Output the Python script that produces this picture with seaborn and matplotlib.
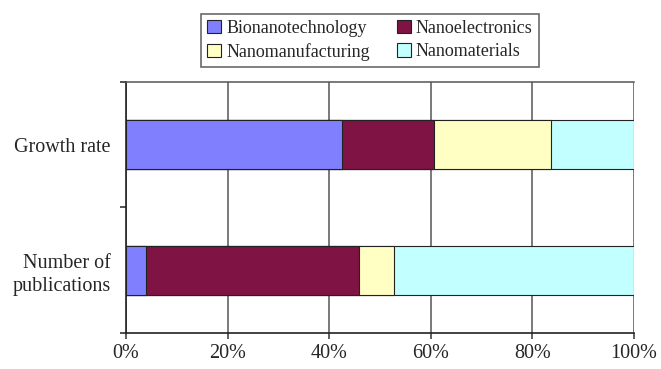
import matplotlib
matplotlib.use("Agg")
import matplotlib.pyplot as plt
from matplotlib.patches import Patch
from matplotlib.ticker import FixedLocator, PercentFormatter
import numpy as np
import pandas as pd
import seaborn as sns

# Share of each research field (percent of the total)
categories = ["Growth rate", "Number of\npublications"]
fields = ["Bionanotechnology", "Nanoelectronics", "Nanomanufacturing", "Nanomaterials"]
bionanotechnology = [42.6, 3.9]
nanoelectronics = [18.0, 41.9]
nanomanufacturing = [23.1, 6.9]
nanomaterials = [16.3, 47.3]
colors = ["#8080FF", "#7F1444", "#FFFFC4", "#C2FFFF"]
x_ticks = [0, 20, 40, 60, 80, 100]

sns.set_theme(style="white")
plt.rcParams["font.family"] = ["Liberation Serif", "DejaVu Serif"]

series = [bionanotechnology, nanoelectronics, nanomanufacturing, nanomaterials]
cumulative = np.cumsum(np.array(series), axis=0)

fig = plt.figure(figsize=(6.61, 3.69), dpi=100)
ax = fig.add_axes([0.1906, 0.0976, 0.7686, 0.6802])

# Stacked bars: draw running totals from the widest down so each segment shows
for i in range(len(fields) - 1, -1, -1):
    df = pd.DataFrame({"category": categories, "total": cumulative[i]})
    sns.barplot(data=df, x="total", y="category", orient="h", color=colors[i],
                width=0.39, edgecolor="#222222", linewidth=0.8, saturation=1,
                ax=ax, zorder=2)

ax.set_xlim(0, 100)
ax.set_ylim(1.5, -0.5)
ax.set_xlabel("")
ax.set_ylabel("")

ax.xaxis.set_major_locator(FixedLocator(x_ticks))
ax.xaxis.set_major_formatter(PercentFormatter(decimals=0))
ax.grid(axis="x", color="#555555", linewidth=1.1, zorder=0)
ax.set_axisbelow(True)

ax.set_yticks([0, 1])
ax.set_yticklabels(categories, fontsize=14.5, linespacing=1.3)
for lbl in ax.get_yticklabels():
    lbl.set_multialignment("right")
ax.yaxis.set_minor_locator(FixedLocator([-0.5, 0.5, 1.5]))
ax.tick_params(axis="y", which="major", length=0, pad=11)
ax.tick_params(axis="y", which="minor", length=4, width=1.1, color="#222222",
               direction="out", left=True)
ax.tick_params(axis="x", which="major", length=4, width=1.1, color="#333333",
               direction="out", bottom=True, labelsize=14.5, pad=4)

for side in ("left", "bottom"):
    ax.spines[side].set_color("#222222")
    ax.spines[side].set_linewidth(1.2)
ax.spines["top"].set_color("#555555")
ax.spines["top"].set_linewidth(1.1)
ax.spines["right"].set_visible(False)

# Legend filled row by row: matplotlib fills columns first, so reorder
handles = [Patch(facecolor=c, edgecolor="#222222", linewidth=0.8, label=f)
           for c, f in zip(colors, fields)]
order = [0, 2, 1, 3]
leg = fig.legend(handles=[handles[k] for k in order], ncol=2, loc="center",
                 bbox_to_anchor=(370 / 661, 1 - 40.5 / 369),
                 fontsize=13, frameon=True, fancybox=False,
                 edgecolor="#444444", handlelength=0.75, handleheight=0.75,
                 handletextpad=0.3, columnspacing=1.5, labelspacing=0.35,
                 borderpad=0.35)
leg.get_frame().set_linewidth(1.2)

fig.savefig("out.png", dpi=100)
